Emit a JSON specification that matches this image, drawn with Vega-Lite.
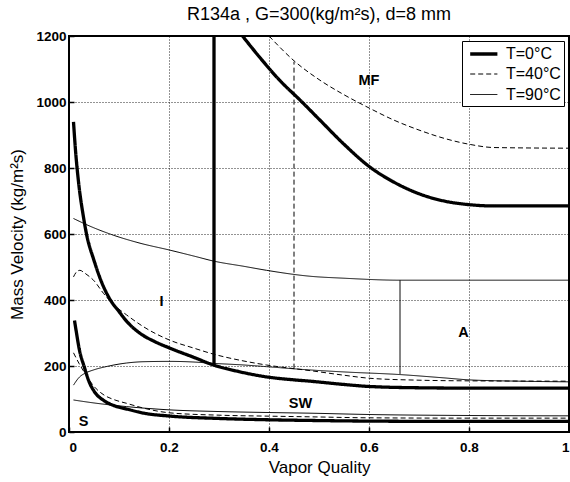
{
  "$schema": "https://vega.github.io/schema/vega-lite/v6.json",
  "width": 500,
  "height": 396,
  "autosize": {"type": "none"},
  "padding": {"left": 69, "top": 36, "right": 1, "bottom": 50},
  "background": "white",
  "config": {
    "font": "Liberation Sans",
    "view": {"stroke": "black", "strokeWidth": 2},
    "axis": {
      "domain": false,
      "grid": true,
      "gridColor": "black",
      "gridDash": [1, 2],
      "gridOpacity": 0.85,
      "gridWidth": 1,
      "tickColor": "black",
      "tickSize": -5,
      "tickWidth": 1.5,
      "labelColor": "black",
      "labelFont": "Liberation Sans",
      "labelFontSize": 13.5,
      "labelFontWeight": "bold",
      "titleColor": "black",
      "titleFont": "Liberation Sans",
      "titleFontSize": 17,
      "titleFontWeight": "normal"
    },
    "legend": {"orient": "top-right", "offset": 5, "title": null, "padding": 3, "rowPadding": 3.5, "symbolType": "M-0.6,0L2.8,0", "symbolSize": 256, "labelOffset": 21, "labelFontSize": 16, "labelFont": "Liberation Sans", "labelColor": "black", "strokeColor": "black", "fillColor": "white", "symbolStrokeColor": "black"}
  },
  "title": {
    "text": "R134a , G=300(kg/m²s), d=8 mm",
    "fontSize": 18,
    "fontWeight": "normal",
    "font": "Liberation Sans",
    "color": "black",
    "offset": 5,
    "anchor": "middle"
  },
  "datasets": {
    "curves": [
      {"T": "T=0°C", "c": "a0", "i": 0, "x": 0.009, "y": 940},
      {"T": "T=0°C", "c": "a0", "i": 1, "x": 0.013, "y": 854},
      {"T": "T=0°C", "c": "a0", "i": 2, "x": 0.02, "y": 745},
      {"T": "T=0°C", "c": "a0", "i": 3, "x": 0.028, "y": 660},
      {"T": "T=0°C", "c": "a0", "i": 4, "x": 0.035, "y": 600},
      {"T": "T=0°C", "c": "a0", "i": 5, "x": 0.05, "y": 520},
      {"T": "T=0°C", "c": "a0", "i": 6, "x": 0.065, "y": 455},
      {"T": "T=0°C", "c": "a0", "i": 7, "x": 0.082, "y": 402},
      {"T": "T=0°C", "c": "a0", "i": 8, "x": 0.1, "y": 365},
      {"T": "T=0°C", "c": "a0", "i": 9, "x": 0.115, "y": 336},
      {"T": "T=0°C", "c": "a0", "i": 10, "x": 0.144, "y": 297},
      {"T": "T=0°C", "c": "a0", "i": 11, "x": 0.17, "y": 275},
      {"T": "T=0°C", "c": "a0", "i": 12, "x": 0.202, "y": 254},
      {"T": "T=0°C", "c": "a0", "i": 13, "x": 0.25, "y": 226},
      {"T": "T=0°C", "c": "a0", "i": 14, "x": 0.289, "y": 203},
      {"T": "T=0°C", "c": "a0", "i": 15, "x": 0.34, "y": 183},
      {"T": "T=0°C", "c": "a0", "i": 16, "x": 0.395, "y": 167},
      {"T": "T=0°C", "c": "a0", "i": 17, "x": 0.45, "y": 158},
      {"T": "T=0°C", "c": "a0", "i": 18, "x": 0.482, "y": 154},
      {"T": "T=0°C", "c": "a0", "i": 19, "x": 0.55, "y": 144},
      {"T": "T=0°C", "c": "a0", "i": 20, "x": 0.6, "y": 138},
      {"T": "T=0°C", "c": "a0", "i": 21, "x": 0.7, "y": 134},
      {"T": "T=0°C", "c": "a0", "i": 22, "x": 0.8, "y": 133},
      {"T": "T=0°C", "c": "a0", "i": 23, "x": 1.0, "y": 133},

      {"T": "T=0°C", "c": "b0", "i": 0, "x": 0.011, "y": 338},
      {"T": "T=0°C", "c": "b0", "i": 1, "x": 0.015, "y": 300},
      {"T": "T=0°C", "c": "b0", "i": 2, "x": 0.02, "y": 255},
      {"T": "T=0°C", "c": "b0", "i": 3, "x": 0.031, "y": 195},
      {"T": "T=0°C", "c": "b0", "i": 4, "x": 0.04, "y": 153},
      {"T": "T=0°C", "c": "b0", "i": 5, "x": 0.05, "y": 124},
      {"T": "T=0°C", "c": "b0", "i": 6, "x": 0.07, "y": 95},
      {"T": "T=0°C", "c": "b0", "i": 7, "x": 0.09, "y": 80},
      {"T": "T=0°C", "c": "b0", "i": 8, "x": 0.117, "y": 69},
      {"T": "T=0°C", "c": "b0", "i": 9, "x": 0.15, "y": 57},
      {"T": "T=0°C", "c": "b0", "i": 10, "x": 0.204, "y": 48},
      {"T": "T=0°C", "c": "b0", "i": 11, "x": 0.3, "y": 41},
      {"T": "T=0°C", "c": "b0", "i": 12, "x": 0.4, "y": 37},
      {"T": "T=0°C", "c": "b0", "i": 13, "x": 0.483, "y": 35},
      {"T": "T=0°C", "c": "b0", "i": 14, "x": 0.6, "y": 33},
      {"T": "T=0°C", "c": "b0", "i": 15, "x": 0.8, "y": 32},
      {"T": "T=0°C", "c": "b0", "i": 16, "x": 1.0, "y": 32},

      {"T": "T=0°C", "c": "v0", "i": 0, "x": 0.29, "y": 203},
      {"T": "T=0°C", "c": "v0", "i": 1, "x": 0.29, "y": 1200},

      {"T": "T=0°C", "c": "m0", "i": 0, "x": 0.347, "y": 1200},
      {"T": "T=0°C", "c": "m0", "i": 1, "x": 0.38, "y": 1138},
      {"T": "T=0°C", "c": "m0", "i": 2, "x": 0.42, "y": 1068},
      {"T": "T=0°C", "c": "m0", "i": 3, "x": 0.466, "y": 1000},
      {"T": "T=0°C", "c": "m0", "i": 4, "x": 0.5, "y": 948},
      {"T": "T=0°C", "c": "m0", "i": 5, "x": 0.55, "y": 872},
      {"T": "T=0°C", "c": "m0", "i": 6, "x": 0.6, "y": 805},
      {"T": "T=0°C", "c": "m0", "i": 7, "x": 0.65, "y": 757},
      {"T": "T=0°C", "c": "m0", "i": 8, "x": 0.7, "y": 722},
      {"T": "T=0°C", "c": "m0", "i": 9, "x": 0.75, "y": 700},
      {"T": "T=0°C", "c": "m0", "i": 10, "x": 0.8, "y": 689},
      {"T": "T=0°C", "c": "m0", "i": 11, "x": 0.85, "y": 685},
      {"T": "T=0°C", "c": "m0", "i": 12, "x": 1.0, "y": 685},

      {"T": "T=40°C", "c": "a40", "i": 0, "x": 0.009, "y": 470},
      {"T": "T=40°C", "c": "a40", "i": 1, "x": 0.015, "y": 485},
      {"T": "T=40°C", "c": "a40", "i": 2, "x": 0.022, "y": 490},
      {"T": "T=40°C", "c": "a40", "i": 3, "x": 0.03, "y": 483},
      {"T": "T=40°C", "c": "a40", "i": 4, "x": 0.04, "y": 472},
      {"T": "T=40°C", "c": "a40", "i": 5, "x": 0.049, "y": 460},
      {"T": "T=40°C", "c": "a40", "i": 6, "x": 0.069, "y": 420},
      {"T": "T=40°C", "c": "a40", "i": 7, "x": 0.09, "y": 385},
      {"T": "T=40°C", "c": "a40", "i": 8, "x": 0.115, "y": 355},
      {"T": "T=40°C", "c": "a40", "i": 9, "x": 0.15, "y": 318},
      {"T": "T=40°C", "c": "a40", "i": 10, "x": 0.202, "y": 278},
      {"T": "T=40°C", "c": "a40", "i": 11, "x": 0.25, "y": 254},
      {"T": "T=40°C", "c": "a40", "i": 12, "x": 0.289, "y": 236},
      {"T": "T=40°C", "c": "a40", "i": 13, "x": 0.35, "y": 215},
      {"T": "T=40°C", "c": "a40", "i": 14, "x": 0.395, "y": 203},
      {"T": "T=40°C", "c": "a40", "i": 15, "x": 0.45, "y": 192},
      {"T": "T=40°C", "c": "a40", "i": 16, "x": 0.482, "y": 186},
      {"T": "T=40°C", "c": "a40", "i": 17, "x": 0.55, "y": 172},
      {"T": "T=40°C", "c": "a40", "i": 18, "x": 0.6, "y": 163},
      {"T": "T=40°C", "c": "a40", "i": 19, "x": 0.7, "y": 157},
      {"T": "T=40°C", "c": "a40", "i": 20, "x": 0.8, "y": 155},
      {"T": "T=40°C", "c": "a40", "i": 21, "x": 1.0, "y": 154},

      {"T": "T=40°C", "c": "b40", "i": 0, "x": 0.009, "y": 240},
      {"T": "T=40°C", "c": "b40", "i": 1, "x": 0.02, "y": 208},
      {"T": "T=40°C", "c": "b40", "i": 2, "x": 0.031, "y": 180},
      {"T": "T=40°C", "c": "b40", "i": 3, "x": 0.049, "y": 140},
      {"T": "T=40°C", "c": "b40", "i": 4, "x": 0.07, "y": 112},
      {"T": "T=40°C", "c": "b40", "i": 5, "x": 0.09, "y": 98},
      {"T": "T=40°C", "c": "b40", "i": 6, "x": 0.115, "y": 87},
      {"T": "T=40°C", "c": "b40", "i": 7, "x": 0.15, "y": 72},
      {"T": "T=40°C", "c": "b40", "i": 8, "x": 0.202, "y": 58},
      {"T": "T=40°C", "c": "b40", "i": 9, "x": 0.3, "y": 51},
      {"T": "T=40°C", "c": "b40", "i": 10, "x": 0.4, "y": 48},
      {"T": "T=40°C", "c": "b40", "i": 11, "x": 0.482, "y": 46},
      {"T": "T=40°C", "c": "b40", "i": 12, "x": 0.6, "y": 43},
      {"T": "T=40°C", "c": "b40", "i": 13, "x": 0.8, "y": 42},
      {"T": "T=40°C", "c": "b40", "i": 14, "x": 1.0, "y": 42},

      {"T": "T=40°C", "c": "v40", "i": 0, "x": 0.45, "y": 192},
      {"T": "T=40°C", "c": "v40", "i": 1, "x": 0.45, "y": 1122},

      {"T": "T=40°C", "c": "m40", "i": 0, "x": 0.4, "y": 1200},
      {"T": "T=40°C", "c": "m40", "i": 1, "x": 0.45, "y": 1125},
      {"T": "T=40°C", "c": "m40", "i": 2, "x": 0.5, "y": 1068},
      {"T": "T=40°C", "c": "m40", "i": 3, "x": 0.55, "y": 1022},
      {"T": "T=40°C", "c": "m40", "i": 4, "x": 0.6, "y": 982},
      {"T": "T=40°C", "c": "m40", "i": 5, "x": 0.65, "y": 945},
      {"T": "T=40°C", "c": "m40", "i": 6, "x": 0.7, "y": 915},
      {"T": "T=40°C", "c": "m40", "i": 7, "x": 0.75, "y": 890},
      {"T": "T=40°C", "c": "m40", "i": 8, "x": 0.8, "y": 872},
      {"T": "T=40°C", "c": "m40", "i": 9, "x": 0.85, "y": 862},
      {"T": "T=40°C", "c": "m40", "i": 10, "x": 1.0, "y": 860},

      {"T": "T=90°C", "c": "a90", "i": 0, "x": 0.009, "y": 142},
      {"T": "T=90°C", "c": "a90", "i": 1, "x": 0.02, "y": 165},
      {"T": "T=90°C", "c": "a90", "i": 2, "x": 0.035, "y": 180},
      {"T": "T=90°C", "c": "a90", "i": 3, "x": 0.049, "y": 188},
      {"T": "T=90°C", "c": "a90", "i": 4, "x": 0.08, "y": 200},
      {"T": "T=90°C", "c": "a90", "i": 5, "x": 0.115, "y": 209},
      {"T": "T=90°C", "c": "a90", "i": 6, "x": 0.15, "y": 213},
      {"T": "T=90°C", "c": "a90", "i": 7, "x": 0.202, "y": 214},
      {"T": "T=90°C", "c": "a90", "i": 8, "x": 0.25, "y": 212},
      {"T": "T=90°C", "c": "a90", "i": 9, "x": 0.289, "y": 208},
      {"T": "T=90°C", "c": "a90", "i": 10, "x": 0.35, "y": 203},
      {"T": "T=90°C", "c": "a90", "i": 11, "x": 0.395, "y": 198},
      {"T": "T=90°C", "c": "a90", "i": 12, "x": 0.482, "y": 188},
      {"T": "T=90°C", "c": "a90", "i": 13, "x": 0.55, "y": 182},
      {"T": "T=90°C", "c": "a90", "i": 14, "x": 0.662, "y": 174},
      {"T": "T=90°C", "c": "a90", "i": 15, "x": 0.75, "y": 164},
      {"T": "T=90°C", "c": "a90", "i": 16, "x": 0.8, "y": 158},
      {"T": "T=90°C", "c": "a90", "i": 17, "x": 0.9, "y": 154},
      {"T": "T=90°C", "c": "a90", "i": 18, "x": 1.0, "y": 152},

      {"T": "T=90°C", "c": "b90", "i": 0, "x": 0.009, "y": 97},
      {"T": "T=90°C", "c": "b90", "i": 1, "x": 0.05, "y": 88},
      {"T": "T=90°C", "c": "b90", "i": 2, "x": 0.115, "y": 77},
      {"T": "T=90°C", "c": "b90", "i": 3, "x": 0.202, "y": 67},
      {"T": "T=90°C", "c": "b90", "i": 4, "x": 0.3, "y": 62},
      {"T": "T=90°C", "c": "b90", "i": 5, "x": 0.4, "y": 59},
      {"T": "T=90°C", "c": "b90", "i": 6, "x": 0.482, "y": 57},
      {"T": "T=90°C", "c": "b90", "i": 7, "x": 0.6, "y": 53},
      {"T": "T=90°C", "c": "b90", "i": 8, "x": 0.8, "y": 50},
      {"T": "T=90°C", "c": "b90", "i": 9, "x": 1.0, "y": 49},

      {"T": "T=90°C", "c": "u90", "i": 0, "x": 0.009, "y": 647},
      {"T": "T=90°C", "c": "u90", "i": 1, "x": 0.04, "y": 625},
      {"T": "T=90°C", "c": "u90", "i": 2, "x": 0.082, "y": 600},
      {"T": "T=90°C", "c": "u90", "i": 3, "x": 0.14, "y": 573},
      {"T": "T=90°C", "c": "u90", "i": 4, "x": 0.202, "y": 551},
      {"T": "T=90°C", "c": "u90", "i": 5, "x": 0.25, "y": 533},
      {"T": "T=90°C", "c": "u90", "i": 6, "x": 0.289, "y": 518},
      {"T": "T=90°C", "c": "u90", "i": 7, "x": 0.35, "y": 502},
      {"T": "T=90°C", "c": "u90", "i": 8, "x": 0.395, "y": 490},
      {"T": "T=90°C", "c": "u90", "i": 9, "x": 0.482, "y": 472},
      {"T": "T=90°C", "c": "u90", "i": 10, "x": 0.55, "y": 466},
      {"T": "T=90°C", "c": "u90", "i": 11, "x": 0.662, "y": 460},
      {"T": "T=90°C", "c": "u90", "i": 12, "x": 1.0, "y": 460},

      {"T": "T=90°C", "c": "v90", "i": 0, "x": 0.662, "y": 176},
      {"T": "T=90°C", "c": "v90", "i": 1, "x": 0.662, "y": 460}
    ],
    "labels": [
      {"label": "MF", "x": 0.6, "y": 1065},
      {"label": "I", "x": 0.185, "y": 394},
      {"label": "A", "x": 0.789, "y": 299},
      {"label": "SW", "x": 0.463, "y": 85},
      {"label": "S", "x": 0.029, "y": 31}
    ]
  },
  "encoding": {
    "x": {
      "field": "x", "type": "quantitative",
      "scale": {"domain": [0, 1], "nice": false},
      "axis": {"title": "Vapor Quality", "values": [0, 0.2, 0.4, 0.6, 0.8, 1], "format": "~g", "labelPadding": 13, "titlePadding": 6}
    },
    "y": {
      "field": "y", "type": "quantitative",
      "scale": {"domain": [0, 1200], "nice": false},
      "axis": {"title": "Mass Velocity (kg/m²s)", "values": [0, 200, 400, 600, 800, 1000, 1200], "format": "d", "labelPadding": 8, "titlePadding": 9}
    }
  },
  "layer": [
    {
      "data": {"name": "curves"},
      "transform": [{"filter": "indexof(datum.c, 'v') !== 0"}],
      "mark": {"type": "line", "color": "black", "clip": true, "interpolate": "monotone"},
      "encoding": {
        "detail": {"field": "c"},
        "order": {"field": "i"},
        "strokeWidth": {
          "field": "T", "type": "nominal",
          "scale": {"type": "ordinal", "domain": ["T=0°C", "T=40°C", "T=90°C"], "range": [3.3, 1, 1]},
          "legend": {"labelExpr": "datum.label + '\u00a0\u00a0\u00a0\u00a0'"}
        },
        "strokeDash": {
          "field": "T", "type": "nominal",
          "scale": {"type": "ordinal", "domain": ["T=0°C", "T=40°C", "T=90°C"], "range": [[1, 0], [5, 3], [1, 0]]},
          "legend": {"labelExpr": "datum.label + '\u00a0\u00a0\u00a0\u00a0'"}
        }
      }
    },
    {
      "data": {"name": "curves"},
      "transform": [{"filter": "indexof(datum.c, 'v') === 0"}],
      "mark": {"type": "line", "color": "black", "clip": true},
      "encoding": {
        "detail": {"field": "c"},
        "order": {"field": "i"},
        "strokeWidth": {
          "field": "T", "type": "nominal",
          "scale": {"type": "ordinal", "domain": ["T=0°C", "T=40°C", "T=90°C"], "range": [3.3, 1, 1]},
          "legend": {"labelExpr": "datum.label + '\u00a0\u00a0\u00a0\u00a0'"}
        },
        "strokeDash": {
          "field": "T", "type": "nominal",
          "scale": {"type": "ordinal", "domain": ["T=0°C", "T=40°C", "T=90°C"], "range": [[1, 0], [5, 3], [1, 0]]},
          "legend": {"labelExpr": "datum.label + '\u00a0\u00a0\u00a0\u00a0'"}
        }
      }
    },
    {
      "data": {"name": "labels"},
      "mark": {"type": "text", "fontSize": 14.5, "fontWeight": "bold", "font": "Liberation Sans", "color": "black"},
      "encoding": {
        "text": {"field": "label"}
      }
    }
  ]
}
